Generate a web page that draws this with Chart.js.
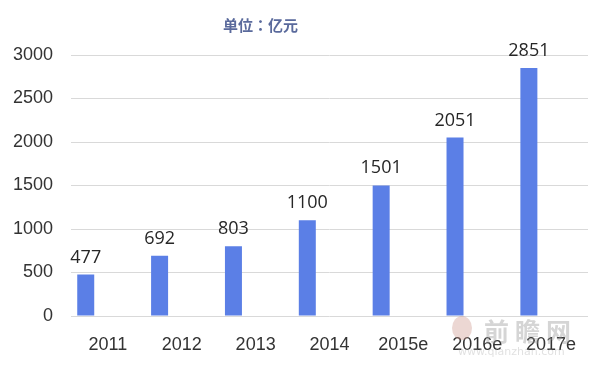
<!DOCTYPE html>
<html>
<head>
<meta charset="utf-8">
<script src="https://cdn.jsdelivr.net/npm/chart.js@4/dist/chart.umd.min.js"></script>
<style>
  html, body { margin: 0; padding: 0; background: #fff; }
  #wrap { position: relative; width: 600px; height: 367px; }
  #title { position: absolute; left: 223px; top: 14px; font: bold 15px "Noto Sans CJK JP", "Noto Sans CJK SC", sans-serif; color: #5a6a9c; white-space: nowrap; }
  #wm { position: absolute; left: 484px; top: 312px; font: bold 25px "Noto Sans CJK SC", sans-serif; color: rgba(150,150,150,0.4); letter-spacing: 6px; white-space: nowrap; }
  #wm2 { position: absolute; left: 458px; top: 345px; font: 11px "DejaVu Sans", sans-serif; color: rgba(180,180,180,0.4); white-space: nowrap; }
  #logo { position: absolute; left: 452px; top: 316px; width: 20px; height: 24px; border-radius: 50%; background: rgba(200,140,130,0.35); }
</style>
</head>
<body>
<div id="wrap">
  <canvas id="c" width="600" height="367"></canvas>
  <div id="title">单位：亿元</div>
  <div id="logo"></div>
  <div id="wm">前瞻网</div>
  <div id="wm2">www.qianzhan.com</div>
</div>
<script>
const categories = ["2011", "2012", "2013", "2014", "2015e", "2016e", "2017e"];
const marketSize = [477, 692, 803, 1100, 1501, 2051, 2851];
const emptySeries = [null, null, null, null, null, null, null];
const yTicks = [0, 500, 1000, 1500, 2000, 2500, 3000];

const labelPlugin = {
  id: 'valueLabels',
  afterDatasetsDraw(chart) {
    const ctx = chart.ctx;
    const meta = chart.getDatasetMeta(0);
    ctx.save();
    ctx.font = '18px "Open Sans", sans-serif';
    ctx.fillStyle = '#262626';
    ctx.textAlign = 'center';
    ctx.textBaseline = 'alphabetic';
    meta.data.forEach((bar, i) => {
      ctx.fillText(String(marketSize[i]), bar.x, bar.y - 12);
    });
    ctx.restore();
  }
};

const tickFont = { family: 'Arial, "Liberation Sans", sans-serif', size: 18 };

new Chart(document.getElementById('c'), {
  type: 'bar',
  data: {
    labels: categories,
    datasets: [
      { data: marketSize, backgroundColor: '#5b7fe6', borderWidth: 0 },
      { data: emptySeries, backgroundColor: '#5b7fe6', borderWidth: 0 }
    ]
  },
  options: {
    responsive: false,
    animation: false,
    categoryPercentage: 1.202,
    barPercentage: 0.383,
    layout: { padding: { left: 0, right: 12, top: 55, bottom: 0 } },
    plugins: { legend: { display: false }, tooltip: { enabled: false }, title: { display: false } },
    scales: {
      x: {
        grid: { display: false, drawTicks: false },
        border: { display: false },
        ticks: { color: '#333333', font: tickFont, padding: 18, maxRotation: 0 },
        afterFit(scale) { scale.height = 51; }
      },
      y: {
        min: 0, max: 3000,
        afterBuildTicks(scale) { scale.ticks = yTicks.map(v => ({ value: v })); },
        grid: { color: '#d9d9d9', drawTicks: false, lineWidth: 1 },
        border: { display: false },
        ticks: { color: '#333333', font: tickFont, padding: 18, callback: v => String(v) },
        afterFit(scale) { scale.width = 71; }
      }
    }
  },
  plugins: [labelPlugin]
});
</script>
</body>
</html>
